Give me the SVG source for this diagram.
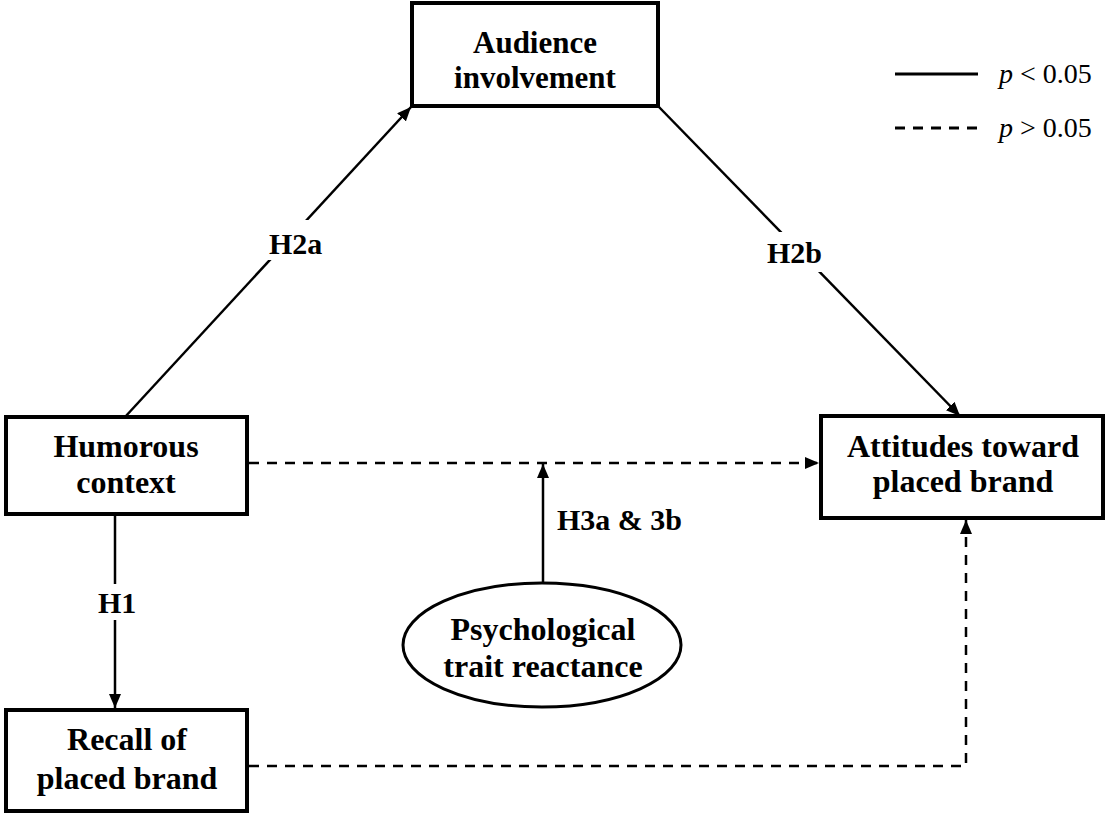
<svg xmlns="http://www.w3.org/2000/svg" width="1106" height="814" viewBox="0 0 1106 814">
<style>
.box{fill:#fff;stroke:#000;stroke-width:4}
.ell{fill:#fff;stroke:#000;stroke-width:3}
.t{font-family:"Liberation Serif","Times New Roman",serif;font-weight:bold;font-size:32px;fill:#000;text-anchor:middle}
.lbl{font-family:"Liberation Serif","Times New Roman",serif;font-weight:bold;font-size:30px;fill:#000}
.leg{font-family:"Liberation Serif","Times New Roman",serif;font-size:28px;fill:#000}
.c{stroke:#000;stroke-width:2.5;fill:none}
.d{stroke-dasharray:10 8}
</style>
<defs>
<marker id="ah" viewBox="0 0 14 12" refX="14" refY="6" markerWidth="14" markerHeight="12" markerUnits="userSpaceOnUse" orient="auto">
<path d="M0,0 L14,6 L0,12 z" fill="#000"/>
</marker>
</defs>
<rect width="1106" height="814" fill="#fff"/>
<g id="connectors">
<line class="c" x1="125" y1="417" x2="411" y2="107" marker-end="url(#ah)"/>
<line class="c" x1="658" y1="106" x2="960" y2="416" marker-end="url(#ah)"/>
<line class="c d" x1="249" y1="463" x2="819" y2="463" marker-end="url(#ah)"/>
<line class="c" x1="543" y1="583" x2="543" y2="464" marker-end="url(#ah)"/>
<line class="c" x1="115" y1="516" x2="115" y2="708" marker-end="url(#ah)"/>
<polyline class="c d" points="249,766 966,766 966,520" marker-end="url(#ah)"/>
<rect x="266" y="220" width="62" height="40" fill="#fff"/>
<text class="lbl" x="269" y="254">H2a</text>
<rect x="764" y="232" width="64" height="40" fill="#fff"/>
<text class="lbl" x="767" y="263">H2b</text>
<rect x="94" y="584" width="46" height="36" fill="#fff"/>
<text class="lbl" x="98" y="613">H1</text>
<text class="lbl" x="557" y="530">H3a &amp; 3b</text>
</g>
<g id="legend">
<line class="c" x1="895" y1="74" x2="978" y2="74" style="stroke-width:3"/>
<text class="leg" x="999" y="83"><tspan font-style="italic">p</tspan> &lt; 0.05</text>
<line class="c d" x1="895" y1="128" x2="978" y2="128" style="stroke-width:3"/>
<text class="leg" x="999" y="137"><tspan font-style="italic">p</tspan> &gt; 0.05</text>
</g>
<g id="audience">
<rect class="box" x="412" y="3" width="246" height="103"/>
<text class="t" x="535" y="53" style="font-size:31px">Audience</text>
<text class="t" x="535" y="88" style="font-size:31px">involvement</text>
</g>
<g id="humorous">
<rect class="box" x="6" y="417" width="241" height="97"/>
<text class="t" x="126" y="457">Humorous</text>
<text class="t" x="126" y="493">context</text>
</g>
<g id="attitudes">
<rect class="box" x="821" y="416" width="282" height="102"/>
<text class="t" x="963" y="457">Attitudes toward</text>
<text class="t" x="963" y="492">placed brand</text>
</g>
<g id="recall">
<rect class="box" x="6" y="710" width="241" height="101"/>
<text class="t" x="127" y="750">Recall of</text>
<text class="t" x="127" y="789">placed brand</text>
</g>
<g id="reactance">
<ellipse class="ell" cx="542" cy="645" rx="139" ry="62"/>
<text class="t" x="543" y="640">Psychological</text>
<text class="t" x="543" y="677">trait reactance</text>
</g>
</svg>
